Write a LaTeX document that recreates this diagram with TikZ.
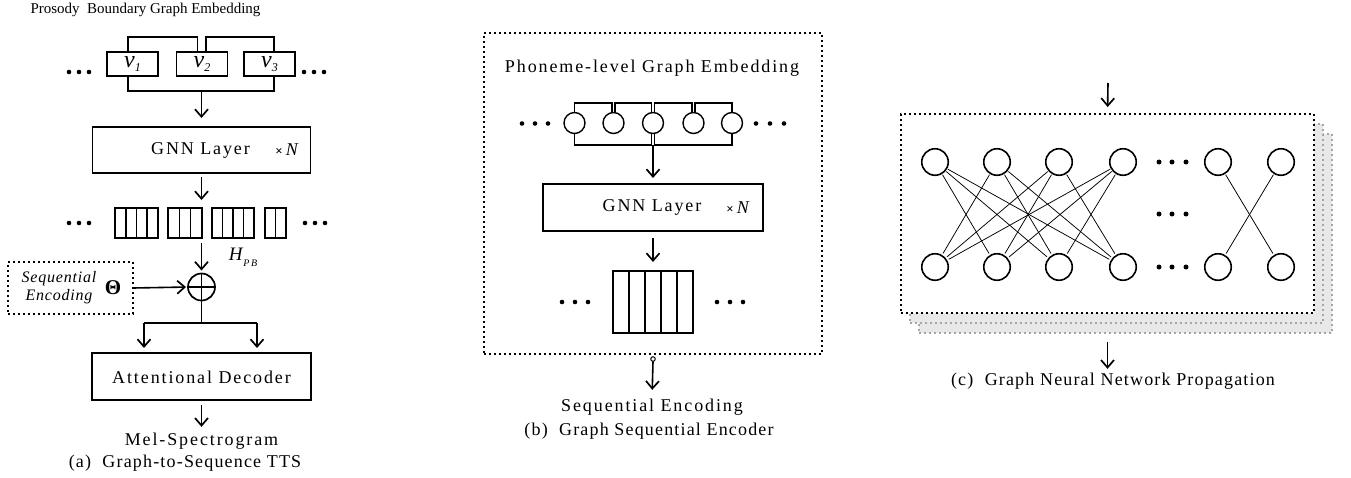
\documentclass[tikz,border=0pt]{standalone}
\usepackage{fontspec}
\setmainfont{Liberation Serif}
\newfontfamily\widefont{Liberation Serif}[LetterSpace=10.5]
\newfontfamily\capfont{Liberation Serif}[LetterSpace=6.5]
\newfontfamily\itfont{Liberation Serif}[LetterSpace=5]
\usetikzlibrary{arrows.meta,calc}
\begin{document}
\begin{tikzpicture}[x=1pt,y=-1pt,
  every node/.style={inner sep=0pt, outer sep=0pt, font=\fontsize{18}{21}\selectfont\widefont},
  capt/.style={font=\fontsize{18}{21}\selectfont\capfont},
  box/.style={draw, line width=1.7pt},
  ln/.style={line width=1.6pt},
  thin edge/.style={line width=0.75pt, shorten <=1.5pt, shorten >=2.5pt},
  arr/.style={line width=1.6pt, -{Straight Barb[length=7.5pt,width=13pt,line width=1.7pt]}},
  dotbox/.style={draw, line width=2pt, dash pattern=on 2pt off 3pt},
  shadowbox/.style={draw=gray!70, fill=gray!18, line width=1.6pt, dash pattern=on 1.6pt off 3.4pt},
  vbox/.style={box, minimum width=51, minimum height=24},
  ph/.style={draw, circle, line width=1.4pt, minimum size=21},
  gn/.style={draw, circle, line width=1.6pt, minimum size=26.5},
  cellrow/.style n args={2}{box, minimum height=#2, path picture={
     \pgfmathtruncatemacro\lastk{#1-1}
     \foreach \k in {1,...,\lastk}{
       \draw[line width=1.6pt] ($(path picture bounding box.north west)!{\k/#1}!(path picture bounding box.north east)$) --
             ($(path picture bounding box.south west)!{\k/#1}!(path picture bounding box.south east)$);}}},
  plussym/.style={draw, circle, line width=1.7pt, minimum size=27, path picture={
     \draw[line width=1.6pt] (path picture bounding box.north) -- (path picture bounding box.south)
           (path picture bounding box.west) -- (path picture bounding box.east);}}
]
\useasboundingbox (0,0) rectangle (1351,477);

% ================= (a) =================
\node[font=\fontsize{15}{17}\selectfont\rmfamily] (ta) at (145.5,10) {Prosody\ \ Boundary Graph Embedding};

\node[vbox] (v1) at (132.5,64) {};
\node[vbox] (v2) at (202,64) {};
\node[vbox] (v3) at (269.5,64) {};
\node at (132.5,64) {\fontsize{24}{24}\selectfont\rmfamily\itshape v\raisebox{-4pt}{\fontsize{12}{12}\selectfont 1}};
\node at (202,64) {\fontsize{24}{24}\selectfont\rmfamily\itshape v\raisebox{-4pt}{\fontsize{12}{12}\selectfont 2}};
\node at (269.5,64) {\fontsize{24}{24}\selectfont\rmfamily\itshape v\raisebox{-4pt}{\fontsize{12}{12}\selectfont 3}};
\foreach \x in {69,79,89,304,314,324} \fill (\x,72) circle (2.3pt);

\draw[ln] ([xshift=-4.5pt]v1.north) -- ++(0,-15) -| ([xshift=-4.5pt]v2.north);
\draw[ln] ([xshift=4pt]v2.north) -- ++(0,-15) -| ([xshift=4.5pt]v3.north);
\draw[ln] ([xshift=-4.5pt]v1.south) -- ++(0,15) -| ([xshift=4.5pt]v3.south);
\coordinate (jb) at (201.5,91);

\node[box, minimum width=218, minimum height=46] (gnna) at (201.5,150) {};
\node (gnnat) at (200.5,150) {GNN Layer};
\node (gnnan) at (288,150) {{\fontsize{13}{13}\selectfont\rmfamily\bfseries ×}\,\textit{N}};
\draw[arr, shorten >=9pt] (jb) -- (gnna.north);

\node[cellrow={4}{30}, minimum width=43] (g1) at (136.5,223) {};
\node[cellrow={3}{30}, minimum width=34] (g2) at (185,223) {};
\node[cellrow={4}{30}, minimum width=42] (g3) at (233,223) {};
\node[cellrow={2}{30}, minimum width=21] (g4) at (275.5,223) {};
\foreach \x in {69,79,89,305,315,325} \fill (\x,223) circle (2.3pt);
\draw[arr, shorten <=4pt, shorten >=8pt] (gnna.south) -- (gnna.south |- g2.north);

\node[plussym] (plus) at (201.5,287) {};
\draw[arr, shorten <=5pt, shorten >=3pt] (plus.north |- g2.south) -- (plus.north);
\node[font=\fontsize{19}{21}\selectfont\rmfamily] (hpb) at (243,257) {\textit{H}\raisebox{-6pt}{\fontsize{10}{10}\selectfont\itshape P\,B}};

\node[dotbox, minimum width=125, minimum height=52] (seqbox) at (70.5,288) {};
\node[align=center, font=\fontsize{16}{18}\selectfont\itfont\itshape] (seqtext) at (59,288) {Sequential\\Encoding};
\node (theta) at (113,287.5) {\fontsize{21}{21}\selectfont\rmfamily\bfseries Θ};
\draw[arr, shorten >=2pt] (seqbox.east) -- (plus.west);

\coordinate (split) at (201.5,323);
\coordinate (dl) at (144,323);
\coordinate (dr) at (257,323);
\node[box, minimum width=219, minimum height=47] (dec) at (201.5,376.5) {};
\node (dect) at (201.5,377) {Attentional Decoder};
\draw[ln] (plus.south) -- (split);
\draw[ln] (dl) -- (dr);
\draw[arr, shorten >=5pt] (dl) -- (dl |- dec.north);
\draw[arr, shorten >=5pt] (dr) -- (dr |- dec.north);

\node (mel) at (201.5,441) {Mel-Spectrogram};
\draw[arr, shorten <=5pt, shorten >=6pt] (dec.south) -- (mel.north);
\node[capt] (capa) at (185,463) {(a)\ \ Graph-to-Sequence TTS};

% ================= (b) =================
\node[dotbox, minimum width=338, minimum height=321] (boxb) at (653,193.5) {};
\node (tb) at (652,68) {Phoneme-level Graph Embedding};
\node[ph] (c1) at (574.5,123) {};
\node[ph] (c2) at (613.5,123) {};
\node[ph] (c3) at (653,123) {};
\node[ph] (c4) at (693.5,123) {};
\node[ph] (c5) at (732,123) {};
\draw[ln] (c1.north) -- ++(0,-9.5) -| ([xshift=-1.5pt]c2.north);
\draw[ln] ([xshift=1.5pt]c2.north) -- ++(0,-9.5) -| ([xshift=-1.5pt]c3.north);
\draw[ln] ([xshift=1.5pt]c3.north) -- ++(0,-9.5) -| ([xshift=-1.5pt]c4.north);
\draw[ln] ([xshift=1.5pt]c4.north) -- ++(0,-9.5) -| (c5.north);
\draw[ln] (c1.south) -- ++(0,11.5) -| ([xshift=-1.5pt]c3.south);
\draw[ln] ([xshift=1.5pt]c3.south) -- ++(0,11.5) -| (c5.south);
\foreach \x in {522,535,548,756,770,784} \fill (\x,123.5) circle (2.3pt);
\coordinate (jb2) at (653,145);

\node[box, minimum width=220, minimum height=47] (gnnb) at (653,207.5) {};
\node (gnnbt) at (652,207.5) {GNN Layer};
\node (gnnbn) at (739,207.5) {{\fontsize{13}{13}\selectfont\rmfamily\bfseries ×}\,\textit{N}};
\draw[arr, shorten >=6pt] (jb2) -- (gnnb.north);

\node[cellrow={5}{62}, minimum width=80] (blk) at (653,302) {};
\draw[arr, shorten <=7pt, shorten >=9pt] (gnnb.south) -- (blk.north);
\foreach \x in {562,575,588,717,730,743} \fill (\x,302) circle (2.3pt);

\node[draw, circle, line width=1pt, minimum size=4.5, fill=white] (oc) at (653,359) {};
\node (seqenc) at (652,407) {Sequential Encoding};
\draw[arr, shorten >=9pt] (oc.south) -- (seqenc.north);
\node[capt] (capb) at (649,431) {(b)\ \ Graph Sequential Encoder};

% ================= (c) =================
\node[shadowbox, minimum width=413, minimum height=199] (sh2) at (1125.5,233.5) {};
\node[shadowbox, minimum width=413, minimum height=199] (sh1) at (1116.5,223.5) {};
\node[dotbox, fill=white, minimum width=413, minimum height=199] (boxc) at (1107.5,213.5) {};
\coordinate (intop) at (1108,83);
\draw[arr, shorten >=7pt] (intop) -- (boxc.north);

\foreach \n/\x in {1/935,2/997,3/1059,4/1123,5/1218,6/1281}{
  \node[gn] (t\n) at (\x,162) {};
  \node[gn] (b\n) at (\x,267) {};
}
\foreach \i in {1,...,4}{
  \foreach \j in {1,...,4}{
    \ifnum\i=\j\else
      \draw[thin edge] (t\i) -- (b\j);
    \fi
  }
}
\draw[thin edge] (t5) -- (b6);
\draw[thin edge] (t6) -- (b5);
\foreach \y in {162,214,267}{
  \foreach \x in {1159,1172,1186} \fill (\x,\y) circle (2.5pt);
}

\node[capt] (capc) at (1113,381) {(c)\ \ Graph Neural Network Propagation};
\draw[arr, shorten <=29pt, shorten >=4pt] (boxc.south) -- (capc.north -| boxc.south);
\end{tikzpicture}
\end{document}
